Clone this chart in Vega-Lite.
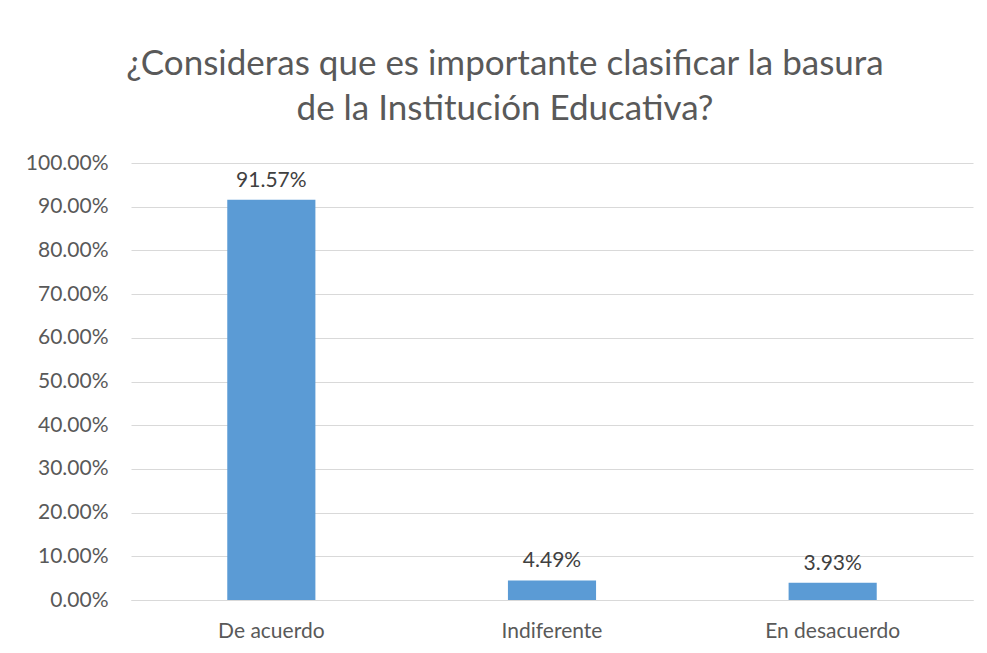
{
  "$schema": "https://vega.github.io/schema/vega-lite/v6.json",
  "width": 842,
  "height": 437,
  "autosize": {"type": "none"},
  "padding": {"left": 131, "top": 163, "right": 14, "bottom": 53},
  "background": "white",
  "title": {
    "text": ["¿Consideras que es importante clasificar la basura", "de la Institución Educativa?"],
    "font": "Lato",
    "fontSize": 35,
    "fontWeight": "normal",
    "color": "#595959",
    "anchor": "middle",
    "frame": "group",
    "dx": -47,
    "offset": 25,
    "lineHeight": 45
  },
  "data": {
    "values": [
      {"respuesta": "De acuerdo", "porcentaje": 0.9157},
      {"respuesta": "Indiferente", "porcentaje": 0.0449},
      {"respuesta": "En desacuerdo", "porcentaje": 0.0393}
    ]
  },
  "encoding": {
    "x": {
      "field": "respuesta",
      "type": "nominal",
      "sort": null,
      "scale": {"paddingInner": 0.686, "paddingOuter": 0.343},
      "axis": {
        "title": null,
        "labelAngle": 0,
        "labelFont": "Lato",
        "labelFontSize": 21,
        "labelColor": "#595959",
        "labelPadding": 20,
        "ticks": false,
        "domainColor": "#d9d9d9",
        "domainWidth": 1,
        "grid": false
      }
    },
    "y": {
      "field": "porcentaje",
      "type": "quantitative",
      "scale": {"domain": [0, 1], "nice": false},
      "axis": {
        "title": null,
        "format": ".2%",
        "values": [0, 0.1, 0.2, 0.3, 0.4, 0.5, 0.6, 0.7, 0.8, 0.9, 1.0],
        "labelFont": "Lato",
        "labelFontSize": 21,
        "labelColor": "#595959",
        "labelPadding": 23,
        "ticks": false,
        "domain": false,
        "grid": true,
        "gridColor": "#d9d9d9",
        "gridWidth": 1
      }
    }
  },
  "layer": [
    {"mark": {"type": "bar", "color": "#5b9bd5"}},
    {
      "mark": {
        "type": "text",
        "font": "Lato",
        "fontSize": 21,
        "color": "#404040",
        "baseline": "alphabetic",
        "dy": -13
      },
      "encoding": {"text": {"field": "porcentaje", "type": "quantitative", "format": ".2%"}}
    }
  ],
  "config": {"view": {"stroke": null}}
}
